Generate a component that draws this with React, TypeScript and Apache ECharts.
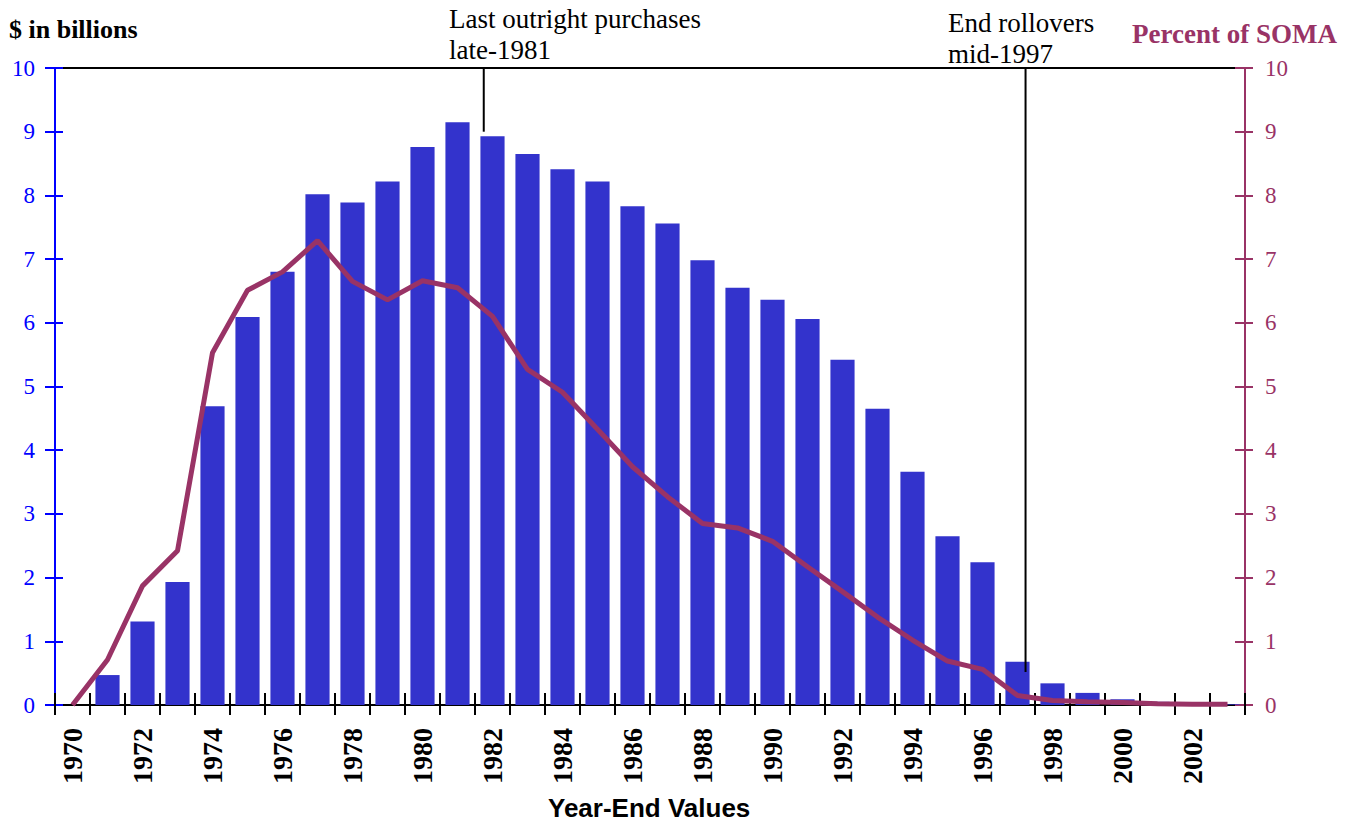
import React, { useEffect, useRef } from 'react';
import * as echarts from 'echarts';

const years = [
  '1970', '1971', '1972', '1973', '1974', '1975', '1976', '1977', '1978', '1979',
  '1980', '1981', '1982', '1983', '1984', '1985', '1986', '1987', '1988', '1989',
  '1990', '1991', '1992', '1993', '1994', '1995', '1996', '1997', '1998', '1999',
  '2000', '2001', '2002', '2003',
];

// $ in billions (year-end)
const holdings = [
  0, 0.47, 1.31, 1.93, 4.69, 6.09, 6.8, 8.02, 7.89, 8.22,
  8.76, 9.15, 8.93, 8.65, 8.41, 8.22, 7.83, 7.56, 6.98, 6.55,
  6.36, 6.06, 5.42, 4.65, 3.66, 2.65, 2.24, 0.68, 0.34, 0.19,
  0.09, 0.05, 0.02, 0.01,
];

// Percent of SOMA
const percentSoma = [
  0, 0.71, 1.87, 2.42, 5.53, 6.51, 6.8, 7.29, 6.65, 6.36,
  6.66, 6.55, 6.1, 5.27, 4.91, 4.33, 3.74, 3.27, 2.85, 2.78,
  2.57, 2.17, 1.78, 1.38, 1.02, 0.69, 0.56, 0.15, 0.07, 0.05,
  0.04, 0.02, 0.01, 0.01,
];

// annotation markers: position on the category index scale, and lower end ($bn)
const annotationText = [
  ['Last outright purchases', 'late-1981'],
  ['End rollovers', 'mid-1997'],
];
const annotationX = [11.75, 27.23];
const annotationBottom = [9.0, 0.52];

const BLUE_BAR = '#3333CC';
const MAROON = '#993366';
const SERIF = '"Liberation Serif", "Times New Roman", serif';
const SANS = '"Liberation Sans", Arial, sans-serif';

export default function App() {
  const ref = useRef<HTMLDivElement>(null);

  useEffect(() => {
    if (!ref.current) return;
    const chart = echarts.init(ref.current, undefined, { renderer: 'svg' });

    const annotationSeries = annotationX.map((x, i) => ({
      type: 'line',
      xAxisIndex: 2,
      yAxisIndex: 0,
      data: [
        [x, 10],
        [x, annotationBottom[i]],
      ],
      symbol: 'none',
      lineStyle: { color: '#000', width: 2 },
      z: 10,
      silent: true,
    }));

    const yBase = {
      type: 'value',
      min: 0,
      max: 10,
      interval: 1,
      splitLine: { show: false },
    };

    chart.setOption({
      animation: false,
      backgroundColor: '#fff',
      grid: { left: 55, right: 108, top: 68, bottom: 119, containLabel: false },
      xAxis: [
        {
          type: 'category',
          data: years,
          position: 'bottom',
          boundaryGap: true,
          axisLine: { show: true, onZero: false, lineStyle: { color: '#000', width: 2 } },
          axisTick: { show: true, interval: 0, length: 10, lineStyle: { color: '#000', width: 2 } },
          axisLabel: {
            interval: 1,
            rotate: 90,
            margin: 23,
            color: '#000',
            fontFamily: SERIF,
            fontWeight: 'bold',
            fontSize: 28,
          },
          splitLine: { show: false },
        },
        {
          type: 'category',
          data: years,
          position: 'bottom',
          boundaryGap: true,
          axisLine: { show: false, onZero: false },
          axisTick: { show: true, inside: true, interval: 0, length: 12, lineStyle: { color: '#000', width: 2 } },
          axisLabel: { show: false },
          splitLine: { show: false },
        },
        {
          type: 'value',
          position: 'top',
          min: -0.5,
          max: 33.5,
          axisLine: { show: true, onZero: false, lineStyle: { color: '#000', width: 2 } },
          axisTick: { show: false },
          axisLabel: { show: false },
          splitLine: { show: false },
        },
      ],
      yAxis: [
        {
          ...yBase,
          position: 'left',
          axisLine: { show: true, onZero: false, lineStyle: { color: '#0000FF', width: 2 } },
          axisTick: { show: true, length: 10, lineStyle: { color: '#0000FF', width: 2 } },
          axisLabel: { color: '#0000FF', fontFamily: SERIF, fontSize: 23, margin: 20 },
        },
        {
          ...yBase,
          position: 'right',
          axisLine: { show: true, onZero: false, lineStyle: { color: MAROON, width: 2 } },
          axisTick: { show: true, length: 8, lineStyle: { color: MAROON, width: 2 } },
          axisLabel: { color: MAROON, fontFamily: SERIF, fontSize: 23, margin: 20 },
        },
        {
          ...yBase,
          position: 'left',
          axisLine: { show: false, onZero: false },
          axisTick: { show: true, inside: true, length: 8, lineStyle: { color: '#0000FF', width: 2 } },
          axisLabel: { show: false },
        },
        {
          ...yBase,
          position: 'right',
          axisLine: { show: false, onZero: false },
          axisTick: { show: true, inside: true, length: 10, lineStyle: { color: MAROON, width: 2 } },
          axisLabel: { show: false },
        },
      ],
      series: [
        {
          type: 'bar',
          name: '$ in billions',
          xAxisIndex: 0,
          yAxisIndex: 0,
          data: holdings,
          barCategoryGap: '31%',
          itemStyle: { color: BLUE_BAR },
          z: 2,
        },
        {
          type: 'line',
          name: 'Percent of SOMA',
          xAxisIndex: 0,
          yAxisIndex: 1,
          data: percentSoma,
          symbol: 'none',
          lineStyle: { color: MAROON, width: 5 },
          itemStyle: { color: MAROON },
          z: 5,
        },
        ...annotationSeries,
      ],
      graphic: [
        {
          type: 'text',
          left: 9,
          top: 16,
          style: {
            text: '$ in billions',
            font: `bold 26px ${SERIF}`,
            fill: '#000',
          },
        },
        {
          type: 'text',
          right: 16,
          top: 20,
          style: {
            text: 'Percent of SOMA',
            font: `bold 27px ${SERIF}`,
            fill: MAROON,
          },
        },
        {
          type: 'text',
          left: 449,
          top: 3,
          style: {
            text: annotationText[0].join('\n'),
            font: `27px ${SERIF}`,
            lineHeight: 31,
            fill: '#000',
          },
        },
        {
          type: 'text',
          left: 948,
          top: 7,
          style: {
            text: annotationText[1].join('\n'),
            font: `27px ${SERIF}`,
            lineHeight: 31,
            fill: '#000',
          },
        },
        {
          type: 'text',
          left: 548,
          top: 795,
          style: {
            text: 'Year-End Values',
            font: `bold 26px ${SANS}`,
            fill: '#000',
          },
        },
      ],
    });

    return () => chart.dispose();
  }, []);

  return (
    <div
      ref={ref}
      style={{ position: 'absolute', left: 0, top: 0, width: 1353, height: 824 }}
    />
  );
}
